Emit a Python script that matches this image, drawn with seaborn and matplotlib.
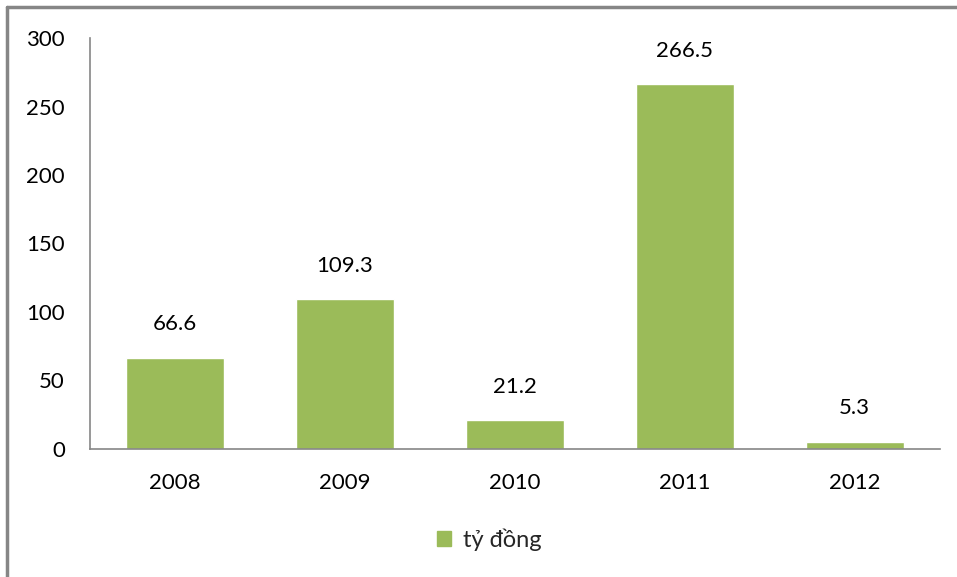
import matplotlib
matplotlib.use("Agg")
import matplotlib.pyplot as plt
import seaborn as sns
import pandas as pd
from matplotlib.patches import Patch

years = ["2008", "2009", "2010", "2011", "2012"]
values = [66.6, 109.3, 21.2, 266.5, 5.3]
series_name = "tỷ đồng"

BAR_COLOR = "#9BBB59"
AXIS_COLOR = "#868686"

sns.set_theme(style="white")
plt.rcParams["font.family"] = ["Lato", "DejaVu Sans"]

df = pd.DataFrame({"year": years, "value": values})

fig = plt.figure(figsize=(9.57, 5.77), dpi=100)
ax = fig.add_axes([0.094, 0.222, 0.888, 0.712])

sns.barplot(data=df, x="year", y="value", color=BAR_COLOR, width=0.58,
            saturation=1, ax=ax)

ax.set_ylim(0, 300)
ax.set_yticks(range(0, 301, 50))
ax.set_xlabel("")
ax.set_ylabel("")
ax.tick_params(axis="both", labelsize=16, length=0, colors="black")
ax.tick_params(axis="x", pad=17)
ax.tick_params(axis="y", pad=18)

for side in ["top", "right"]:
    ax.spines[side].set_visible(False)
for side in ["left", "bottom"]:
    ax.spines[side].set_color(AXIS_COLOR)
    ax.spines[side].set_linewidth(1.2)

# value labels above bars
for bar, v in zip(ax.patches, values):
    ax.annotate(f"{v:.1f}", (bar.get_x() + bar.get_width() / 2, v),
                xytext=(0, 24), textcoords="offset points",
                ha="center", va="center", fontsize=16, color="black")

ax.legend(handles=[Patch(color=BAR_COLOR, label=series_name)],
          loc="center", bbox_to_anchor=(0.47, -0.22), frameon=False,
          fontsize=17, handlelength=0.6, handleheight=0.6, handletextpad=0.5)

# chart area border (only top and left visible in the reference)
fig.add_artist(plt.Line2D([6.5 / 957, 6.5 / 957], [0, 1 - 6.5 / 577],
                          transform=fig.transFigure, color=AXIS_COLOR, lw=2.5))
fig.add_artist(plt.Line2D([6.5 / 957, 1], [1 - 6.5 / 577, 1 - 6.5 / 577],
                          transform=fig.transFigure, color=AXIS_COLOR, lw=2.5))

fig.savefig("out.png", dpi=100)
